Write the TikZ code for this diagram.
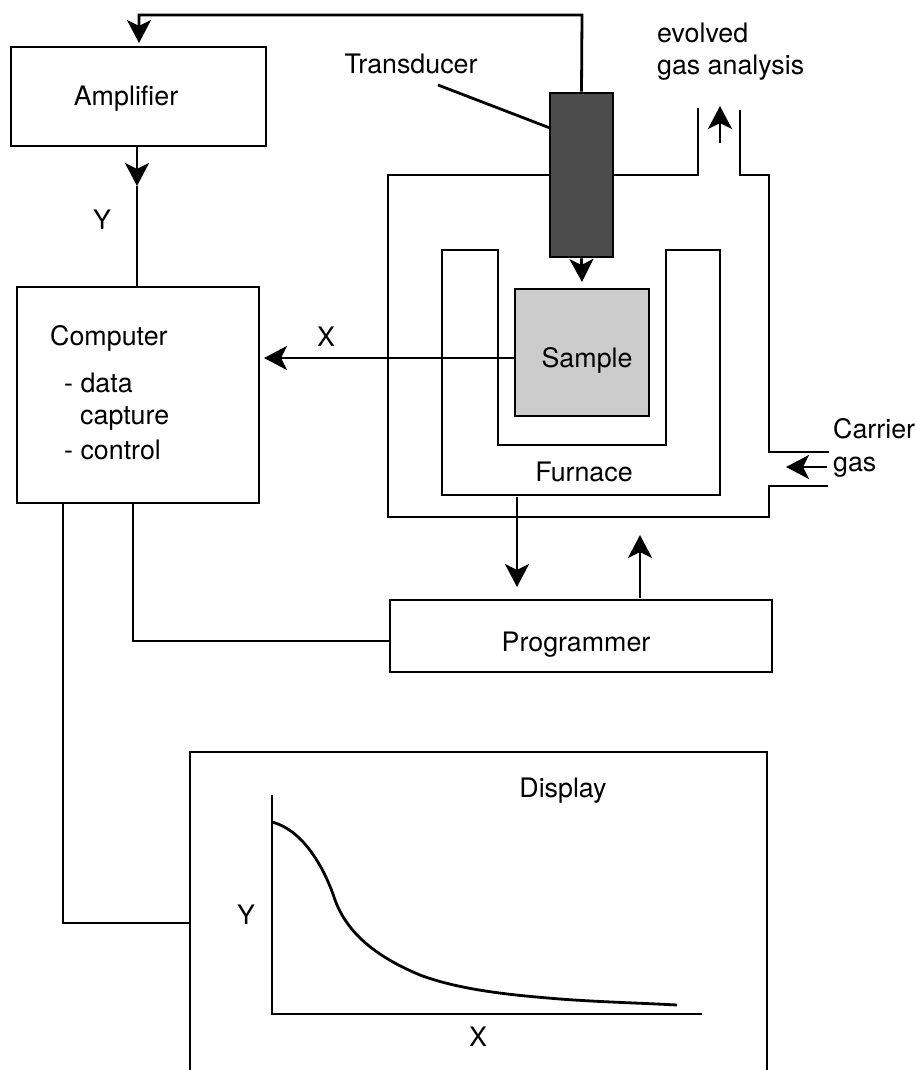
\documentclass[tikz,border=0pt]{standalone}
\usepackage{fontspec}
\setmainfont{TeX Gyre Heros}
\usetikzlibrary{arrows.meta, positioning}

\begin{document}
\begin{tikzpicture}[x=1pt, y=-1pt,
        box/.style={rectangle, draw, line width=2.8pt, inner sep=0pt},
        lbl/.style={inner sep=0pt, font=\fontsize{26.8}{32}\selectfont},
        lblw/.style={lbl, anchor=base west},
        wire/.style={line width=2.8pt},
        flow/.style={wire, -{Stealth[length=23pt, width=24pt, inset=6pt]}},
    ]
        \useasboundingbox (0,0) rectangle (917,1070);

        % vessel walls
        \draw[wire] (698,108) -- (698,175) -- (388,175) -- (388,517) -- (769,517) -- (769,486) -- (828,486);
        \draw[wire] (740,110) -- (740,175) -- (769,175) -- (769,452) -- (829,452);
        \draw[wire] (442,250) -- (498,250) -- (498,445) -- (666,445) -- (666,250) -- (720,250) -- (720,495) -- (442,495) -- cycle;

        \node[box, minimum width=255pt, minimum height=99pt] (amp) at (138.5,96.5) {};
        \node[box, minimum width=242pt, minimum height=216pt] (comp) at (138,395) {};
        \node[box, minimum width=382pt, minimum height=72pt] (prog) at (581,636) {};
        \node[box, fill=black!70, minimum width=63pt, minimum height=164pt] (trans) at (581.5,175) {};
        \node[box, fill=black!20, minimum width=134pt, minimum height=127pt] (samp) at (582,352.5) {};

        % free ends
        \coordinate (ampin) at (139,43);
        \coordinate (ampout) at (137,146);
        \coordinate (ampmid) at (137,186);
        \coordinate (compin) at (137,287);
        \coordinate (xtip) at (264,358);
        \coordinate (sampx) at (515,358);
        \coordinate (translead) at (438,85);
        \coordinate (transedge) at (550,128);
        \coordinate (sampin) at (582,282);
        \coordinate (furnout) at (517,497);
        \coordinate (progin) at (517,587);
        \coordinate (progout) at (640,598);
        \coordinate (chamin) at (640,535);
        \coordinate (gasup0) at (720,143);
        \coordinate (gasup1) at (720,106);
        \coordinate (gasin0) at (827,467);
        \coordinate (gasin1) at (786,467);
        \coordinate (compa) at (133,503);
        \coordinate (compb) at (63,503);
        \coordinate (progleft) at (390,641);
        \coordinate (dispin) at (190,923);
        \coordinate (origin) at (272,1014);

        \draw[flow] (trans.north) -- (582,15) -- (139,15) -- (ampin);
        \draw[flow] (ampout) -- (ampmid);
        \draw[wire] (ampmid) -- (compin);
        \draw[flow] (sampx) -- (xtip);
        \draw[wire] (translead) -- (transedge);
        \draw[flow] (trans.south) -- (sampin);
        \draw[flow] (furnout) -- (progin);
        \draw[flow] (progout) -- (chamin);
        \draw[flow] (gasup0) -- (gasup1);
        \draw[flow] (gasin0) -- (gasin1);
        \draw[wire] (compa) |- (progleft);
        \draw[wire] (compb) |- (dispin);

        % display, open at the page edge
        \draw[wire] (190,1072) -- (190,752) -- (767,752) -- (767,1072);
        \draw[wire] (272,795) -- (origin) -- (702,1014);
        \draw[wire] (272,822) .. controls (300,829) and (322,862) .. (334,897)
            .. controls (345,930) and (372,955) .. (420,975)
            .. controls (460,990) and (510,995) .. (560,999)
            .. controls (600,1002) and (640,1003) .. (677,1005);

        \node[lbl] (amplabel) at (126,99) {Amplifier};
        \node[lbl] (ylabel) at (102,220) {Y};
        \node[lbl] (xlabel) at (326,337) {X};
        \node[lbl] (translabel) at (411,64) {Transducer};
        \node[lblw] (evolved) at (657,43) {evolved};
        \node[lblw] (gaslabel) at (657,75) {gas analysis};
        \node[lblw] (carrier) at (833,438) {Carrier};
        \node[lblw] (carriergas) at (833,471) {gas};
        \node[lbl] (samplabel) at (587,360) {Sample};
        \node[lbl] (furnlabel) at (584,472) {Furnace};
        \node[lbl] (proglabel) at (576,645) {Programmer};
        \node[lblw] (complabel) at (50,345) {Computer};
        \node[lblw] (compdata) at (64,392) {- data};
        \node[lblw] (compcap) at (80,424) {capture};
        \node[lblw] (compctl) at (64,459) {- control};
        \node[lbl] (displabel) at (563,791) {Display};
        \node[lbl] (ydisp) at (246,915) {Y};
        \node[lbl] (xdisp) at (478,1037) {X};
    \end{tikzpicture}
\end{document}
